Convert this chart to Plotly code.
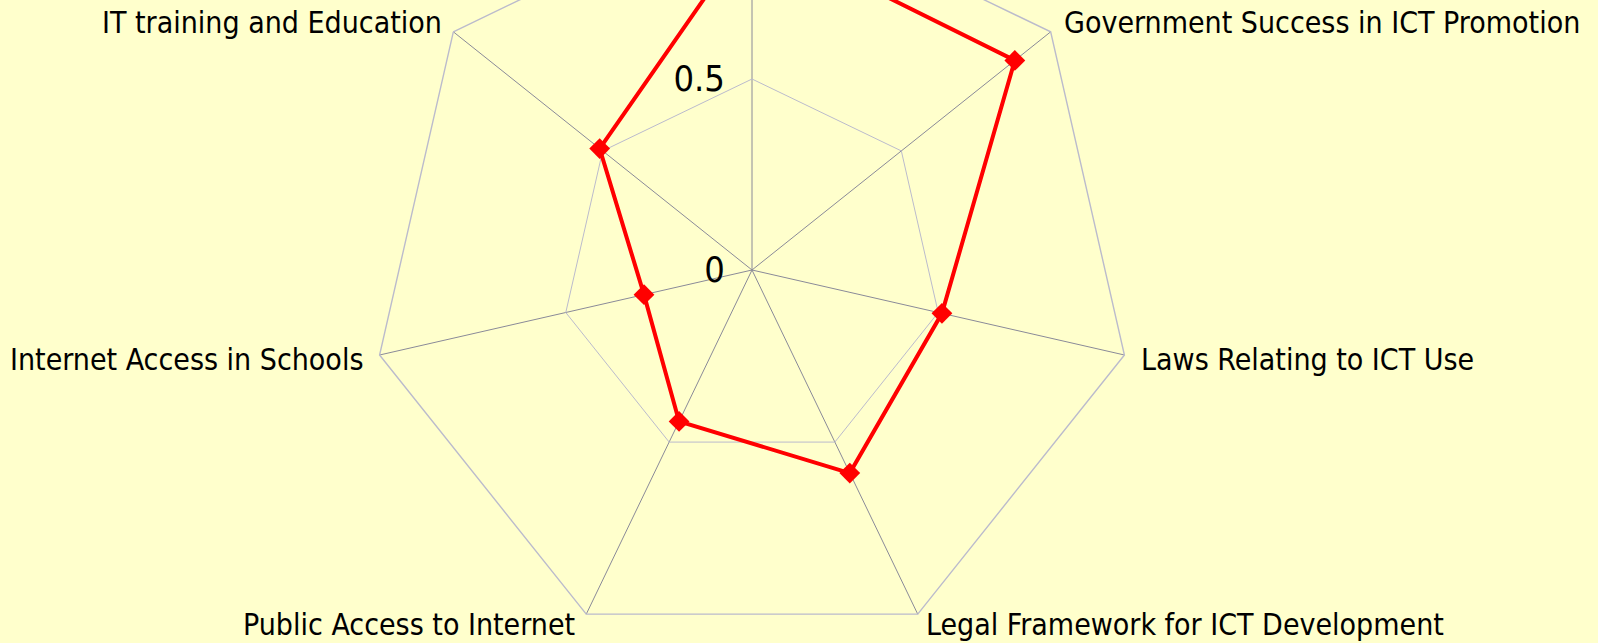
import math
import plotly.graph_objects as go

# indicator names, clockwise from the top spoke (top label is cut off in the source)
categories = [
    "Government Prioritization of ICT",
    "Government Success in ICT Promotion",
    "Laws Relating to ICT Use",
    "Legal Framework for ICT Development",
    "Public Access to Internet",
    "Internet Access in Schools",
    "IT training and Education",
]
scores = [0.89, 0.88, 0.51, 0.59, 0.44, 0.29, 0.51]
radial_ticks = [0, 0.5, 1]
radial_labels = ["0", "0.5", "1"]

BG = "#FFFFCC"
FONT = "DejaVu Sans Condensed, Tahoma, Liberation Sans, sans-serif"
SHIFT = 120  # px of the chart hidden above the window top

# category labels placed beside their spoke ends: anchor, x gap, y offset (px)
label_place = {
    1: ("left", 11, -9),
    2: ("left", 15, 4),
    3: ("left", 6, 10),
    4: ("right", -9, 10),
    5: ("right", -15, 4),
    6: ("right", -9, -9),
}
tick_text = ["" if i in label_place else c for i, c in enumerate(categories)]

fig = go.Figure()
fig.add_trace(
    go.Scatterpolar(
        r=scores + scores[:1],
        theta=categories + categories[:1],
        mode="lines+markers",
        line=dict(color="#FF0000", width=4),
        marker=dict(symbol="diamond", size=16, color="#FF0000"),
        showlegend=False,
    )
)

W, H = 1598, 780
cx, cy, R = 752, 270 + SHIFT, 382
n = len(categories)
for i, (anchor, dx, dy) in label_place.items():
    ang = 2 * math.pi * i / n
    vx = cx + R * math.sin(ang)
    vy = cy - R * math.cos(ang)
    fig.add_annotation(
        text=categories[i],
        xref="paper",
        yref="paper",
        x=vx / W,
        y=1 - (vy + dy) / H,
        xanchor=anchor,
        yanchor="middle",
        xshift=dx,
        showarrow=False,
        font=dict(size=30, color="black"),
    )

fig.update_layout(
    width=W,
    height=H,
    margin=dict(l=0, r=0, t=0, b=0),
    paper_bgcolor=BG,
    font=dict(family=FONT, color="black"),
    polar=dict(
        domain=dict(x=[(cx - R) / W, (cx + R) / W], y=[1 - (cy + R) / H, 1 - (cy - R) / H]),
        bgcolor=BG,
        gridshape="linear",
        angularaxis=dict(
            type="category",
            direction="clockwise",
            rotation=90,
            showline=True,
            linecolor="#BBBBCC",
            linewidth=1.4,
            gridcolor="#8A8A98",
            gridwidth=1.4,
            ticks="outside",
            ticklen=8,
            tickcolor="rgba(0,0,0,0)",
            tickmode="array",
            tickvals=categories,
            ticktext=tick_text,
            tickfont=dict(size=30, color="black"),
        ),
        radialaxis=dict(
            range=[0, 1],
            angle=90,
            side="counterclockwise",
            tickvals=radial_ticks,
            ticktext=radial_labels,
            tickangle=90,
            showline=False,
            gridcolor="#BBBBCC",
            gridwidth=1.4,
            ticks="outside",
            ticklen=14,
            tickcolor="rgba(0,0,0,0)",
            tickfont=dict(size=36, color="black"),
        ),
    ),
)

post = (
    "var d=document.getElementById('{plot_id}');"
    "d.style.marginTop='-%dpx';"
    "document.body.style.margin='0';"
    "document.body.style.overflow='hidden';"
    "document.body.style.background='%s';"
    "document.documentElement.style.background='%s';" % (SHIFT, BG, BG)
)
fig.write_html("out.html", post_script=post)
